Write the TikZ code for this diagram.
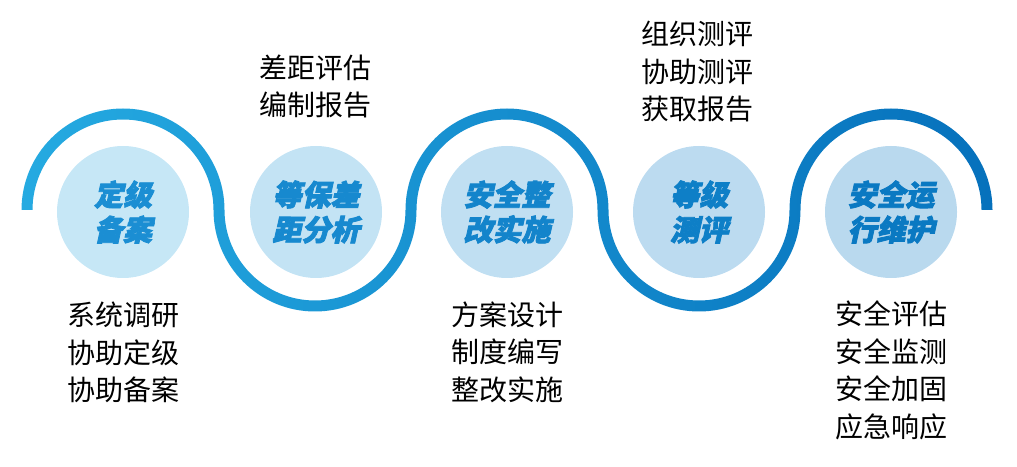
\documentclass[tikz,border=0pt]{standalone}
\usepackage{fontspec}
\newfontfamily\cjk{Noto Sans CJK SC}
\newfontfamily\cjkhead{Noto Sans CJK SC}[FakeSlant=0.22,FakeBold=2.8]
\definecolor{waveL}{HTML}{25AAE1}
\definecolor{waveR}{HTML}{0671BC}
\definecolor{fillA}{HTML}{C6E7F6}
\definecolor{fillB}{HTML}{C3E3F4}
\definecolor{fillC}{HTML}{C0DFF2}
\definecolor{fillD}{HTML}{BCDBF0}
\definecolor{fillE}{HTML}{B9D9EE}
\definecolor{headA}{HTML}{1B8ED3}
\definecolor{headB}{HTML}{1789CF}
\definecolor{headC}{HTML}{1384CB}
\definecolor{headD}{HTML}{0E7FC7}
\definecolor{headE}{HTML}{0A79C2}
\tikzset{
  x=1pt, y=1pt,
  stagecircle/.style={circle, minimum size=132pt, inner sep=0pt, align=center,
    font=\cjkhead\bfseries\fontsize{29}{35}\selectfont},
  tasklist/.style={align=center, inner sep=0pt, text=black,
    font=\cjk\fontsize{28}{37.5}\selectfont}
}
\begin{document}
\begin{tikzpicture}
\useasboundingbox (0,0) rectangle (1017,466);
% wave made of five half rings, shaded left to right
\shade[left color=waveL, right color=waveR]
  (123-101.5,256) arc[start angle=180,end angle=0,radius=101.5] -- (123+90.5,256) arc[start angle=0,end angle=180,radius=90.5] -- cycle
  (315-101.5,256) arc[start angle=180,end angle=360,radius=101.5] -- (315+90.5,256) arc[start angle=360,end angle=180,radius=90.5] -- cycle
  (507-101.5,256) arc[start angle=180,end angle=0,radius=101.5] -- (507+90.5,256) arc[start angle=0,end angle=180,radius=90.5] -- cycle
  (699-101.5,256) arc[start angle=180,end angle=360,radius=101.5] -- (699+90.5,256) arc[start angle=360,end angle=180,radius=90.5] -- cycle
  (891-101.5,256) arc[start angle=180,end angle=0,radius=101.5] -- (891+90.5,256) arc[start angle=0,end angle=180,radius=90.5] -- cycle;
% stage circles
\node[stagecircle, fill=fillA, text=headA] (s1) at (123,254) {定级\\备案};
\node[stagecircle, fill=fillB, text=headB] (s2) at (316,254) {等保差\\距分析};
\node[stagecircle, fill=fillC, text=headC] (s3) at (507,254) {安全整\\改实施};
\node[stagecircle, fill=fillD, text=headD] (s4) at (699,254) {等级\\测评};
\node[stagecircle, fill=fillE, text=headE] (s5) at (891,254) {安全运\\行维护};
% task lists
\node[tasklist] (t1) at (123,113.5) {系统调研\\协助定级\\协助备案};
\node[tasklist] (t2) at (315,379.5) {差距评估\\编制报告};
\node[tasklist] (t3) at (507,114) {方案设计\\制度编写\\整改实施};
\node[tasklist] (t4) at (697,394.5) {组织测评\\协助测评\\获取报告};
\node[tasklist] (t5) at (891,95.5) {安全评估\\安全监测\\安全加固\\应急响应};
\end{tikzpicture}
\end{document}
